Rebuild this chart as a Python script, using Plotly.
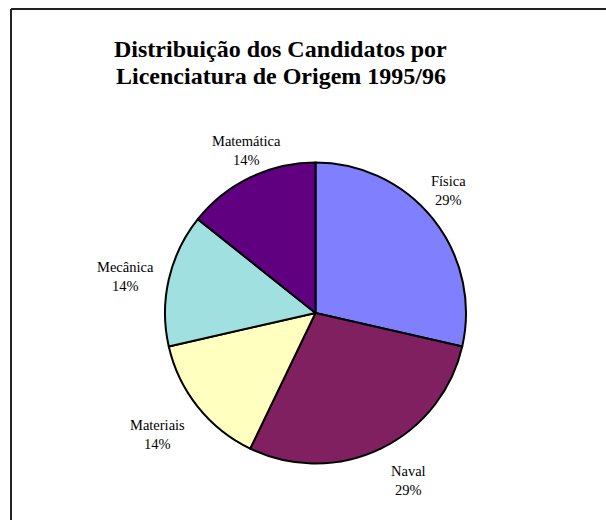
import plotly.graph_objects as go

# ---- data ----
categories = ["Física", "Naval", "Materiais", "Mecânica", "Matemática"]
values = [2, 2, 1, 1, 1]
colors = ["#8080FF", "#802060", "#FFFFC0", "#A0E0E0", "#600080"]
title_lines = ["Distribuição dos Candidatos por", "Licenciatura de Origem 1995/96"]

# ---- layout helpers (pixel positions of label text) ----
W, H = 606, 520
# (x center, y center of the two-line label block)
label_pos = [
    (448.5, 190),   # Física
    (408.5, 480),   # Naval
    (157, 434),     # Materiais
    (125, 276),     # Mecânica
    (246, 150),     # Matemática
]

total = sum(values)
pcts = [f"{round(v / total * 100)}%" for v in values]

cx, cy, r = 315.5, 313, 150.5

fig = go.Figure()
fig.add_trace(go.Pie(
    labels=categories,
    values=values,
    sort=False,
    direction="clockwise",
    rotation=0,
    marker=dict(colors=colors, line=dict(color="black", width=2)),
    textinfo="none",
    showlegend=False,
    domain=dict(x=[(cx - r) / W, (cx + r) / W], y=[1 - (cy + r) / H, 1 - (cy - r) / H]),
))


def px(x):
    return x / W


def py(y):
    return 1 - y / H


annotations = []
lab_font = dict(family="Liberation Serif, Times New Roman, serif", size=14.5, color="black")
for name, pct, (lx, ly) in zip(categories, pcts, label_pos):
    annotations.append(dict(text=f"{name}<br>{pct}", x=px(lx), y=py(ly), xref="paper", yref="paper",
                            xanchor="center", yanchor="middle", align="center",
                            showarrow=False, font=lab_font))

title_font = dict(family="Liberation Serif, Times New Roman, serif", size=24, color="black")
for line, base in zip(title_lines, [57, 84]):
    annotations.append(dict(text=f"<b>{line}</b>", x=px(280.5), y=py(base - 8), xref="paper", yref="paper",
                            xanchor="center", yanchor="middle", showarrow=False, font=title_font))

shapes = [
    dict(type="line", xref="paper", yref="paper", x0=px(11), y0=py(9), x1=px(11), y1=0,
         line=dict(color="#222222", width=2)),
    dict(type="line", xref="paper", yref="paper", x0=px(11), y0=py(9), x1=1, y1=py(9),
         line=dict(color="#222222", width=2)),
]

fig.update_layout(
    width=W, height=H,
    margin=dict(l=0, r=0, t=0, b=0),
    paper_bgcolor="white",
    plot_bgcolor="white",
    annotations=annotations,
    shapes=shapes,
)

fig.write_html("out.html", config={"displayModeBar": False},
               post_script="document.body.style.margin='0';")
